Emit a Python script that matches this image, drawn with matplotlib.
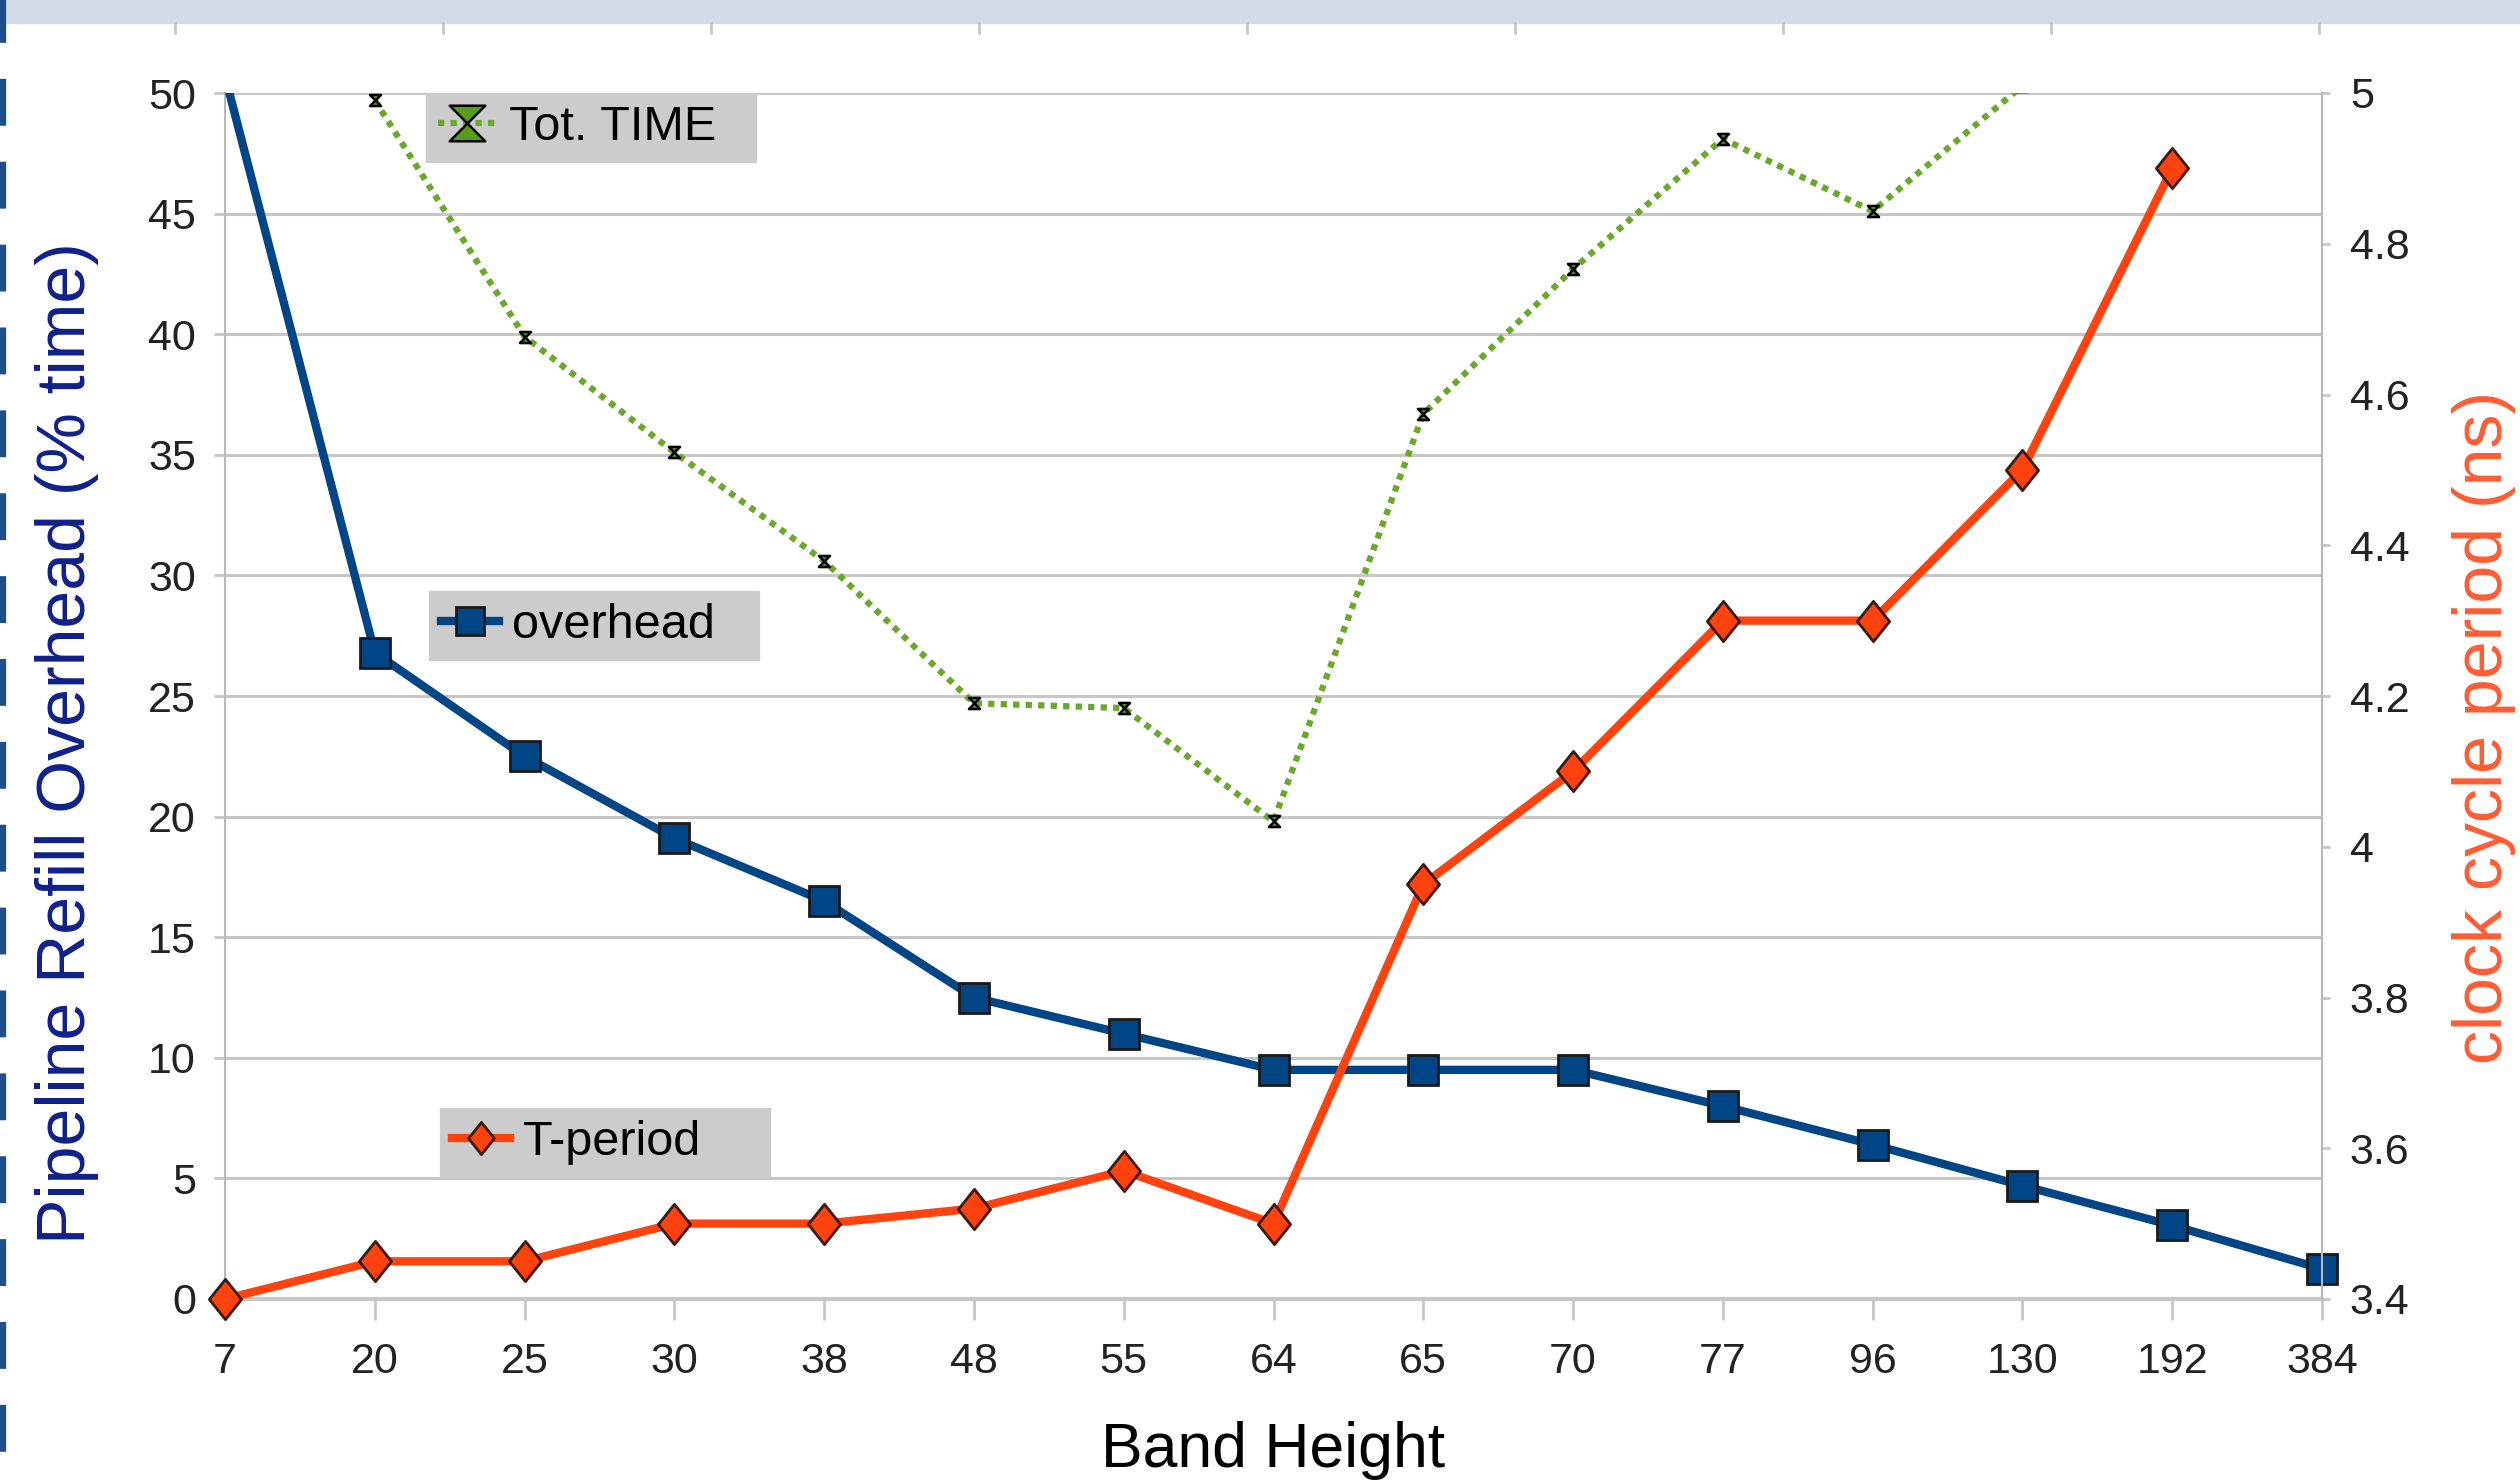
import numpy as np
import matplotlib.pyplot as plt
from matplotlib.lines import Line2D
from matplotlib.patches import Rectangle
from matplotlib.path import Path

plt.rcParams['font.family'] = ['Liberation Sans', 'DejaVu Sans']

# valeurs
band_height = ['7', '20', '25', '30', '38', '48', '55', '64', '65', '70', '77', '96', '130', '192', '384']
overhead = [50.7, 26.8, 22.5, 19.1, 16.5, 12.5, 11.0, 9.5, 9.5, 9.5, 8.0, 6.4, 4.7, 3.05, 1.25]
t_period = [3.40, 3.45, 3.45, 3.50, 3.50, 3.52, 3.57, 3.50, 3.95, 4.10, 4.30, 4.30, 4.50, 4.90, np.nan]
tot_time = [np.nan, 49.7, 39.9, 35.1, 30.6, 24.7, 24.5, 19.8, 36.7, 42.7, 48.1, 45.1, 50.3, np.nan, np.nan]

W, H = 2520, 1483
fig = plt.figure(figsize=(W / 100, H / 100), dpi=100)

# bandeau du haut et bordure pointillée gauche (décor de la diapo)
fig.patches.append(Rectangle((0, 1 - 23 / H), 1, 23 / H, transform=fig.transFigure,
                             color='#d5dce8', zorder=0))
for xp in np.arange(175, W, 268):
    fig.lines.append(Line2D([xp / W, xp / W], [1 - 23 / H, 1 - 33 / H], transform=fig.transFigure,
                            color='#c8c8c8', lw=2))
fig.lines.append(Line2D([3 / W, 3 / W], [1, 0], transform=fig.transFigure, color='#1f4e8c',
                        lw=4.5, linestyle=(0.64, (7.5, 5.76))))

ax = fig.add_axes([225 / W, 184 / H, 2097 / W, 1206 / H])
ax2 = ax.twinx()

x = np.arange(len(band_height))
grid_col = '#c6c6c6'

# séries sur l'axe gauche
hourglass = Path([(-1, 1), (1, 1), (-1, -1), (1, -1), (-1, 1)],
                 [Path.MOVETO, Path.LINETO, Path.LINETO, Path.LINETO, Path.CLOSEPOLY])
l_time, = ax.plot(x, tot_time, color='#6aa82a', lw=4.5, linestyle=(0, (1, 1)),
                  marker=hourglass, ms=8, mfc='#579d1c', mec='black', mew=1.8, zorder=3)
l_over, = ax.plot(x, overhead, color='#004586', lw=6, marker='s', ms=22,
                  mfc='#004586', mec='#1a1a1a', mew=2, zorder=4)
# coupé seulement en haut (le point 384 reste entier sur le bord droit)
clip_rect = Rectangle((-0.05, -0.1), 1.1, 1.1, transform=ax.transAxes, visible=False)
ax.add_patch(clip_rect)
l_over.set_clip_path(clip_rect)

# série sur l'axe droit
diamond = Path([(0, 1), (0.8, 0), (0, -1), (-0.8, 0), (0, 1)],
               [Path.MOVETO, Path.LINETO, Path.LINETO, Path.LINETO, Path.CLOSEPOLY])
l_per, = ax2.plot(x, t_period, color='#ff420e', lw=6, marker=diamond, ms=29,
                  mfc='#ff420e', mec='#3a1a10', mew=2, clip_on=False, zorder=5)

ax.set_xlim(0, len(band_height) - 1)
ax.set_ylim(0, 50)
ax.set_yticks(np.arange(0, 51, 5))
ax.set_xticks(x)
ax.set_xticklabels(band_height)
ax2.set_ylim(3.4, 5.0)
ax2.set_yticks(np.arange(3.4, 5.01, 0.2))
ax2.set_yticklabels(['%g' % round(v, 1) for v in np.arange(3.4, 5.01, 0.2)])

ax.grid(axis='y', color=grid_col, lw=2.2)
ax.set_axisbelow(True)

for s in ['top', 'right']:
    ax.spines[s].set_visible(False)
for s in ['top', 'left', 'bottom']:
    ax2.spines[s].set_visible(False)
ax.spines['left'].set_color('#b8b8b8')
ax.spines['left'].set_linewidth(1.5)
ax.spines['bottom'].set_color(grid_col)
ax.spines['bottom'].set_linewidth(3)
ax2.spines['right'].set_color('#b8b8b8')
ax2.spines['right'].set_linewidth(1.5)

ax.tick_params(axis='y', length=8, width=2, color=grid_col, pad=13, labelsize=31, labelcolor='#222222')
ax.tick_params(axis='x', length=15, width=2, color=grid_col, pad=16, labelsize=31, labelcolor='#222222')
ax2.tick_params(axis='y', length=6, width=2, color=grid_col, pad=14, labelsize=31, labelcolor='#222222')

ax.set_xlabel('Band Height', fontsize=45, labelpad=28)
ax.set_ylabel('Pipeline Refill Overhead (% time)', fontsize=49, color='#10208a')
ax.yaxis.set_label_coords(-0.06, 0.461)
ax2.set_ylabel('clock cycle period (ns)', fontsize=49, color='#ff5c33')
ax2.yaxis.set_label_coords(1.062, 0.474)

# trois légendes séparées (boîtes grises)
leg_kw = dict(loc='upper left', mode='expand', fontsize=35, frameon=True, facecolor='#cccccc',
              edgecolor='#cccccc', framealpha=1, fancybox=False, borderpad=0.25,
              handlelength=1.2, handletextpad=0.25, borderaxespad=0)
lw_box, lh_box = 330 / W, 68 / H
fig.legend([l_time], ['Tot. TIME'], bbox_to_anchor=(426 / W, 1 - 161 / H, lw_box, lh_box),
           markerscale=3.2, **leg_kw)
fig.legend([l_over], ['overhead'], bbox_to_anchor=(429 / W, 1 - 659 / H, lw_box, lh_box),
           markerscale=0.9, **leg_kw)
fig.legend([l_per], ['T-period'], bbox_to_anchor=(440 / W, 1 - 1176 / H, lw_box, lh_box),
           markerscale=0.8, **leg_kw)

fig.savefig('out.png', dpi=100)
